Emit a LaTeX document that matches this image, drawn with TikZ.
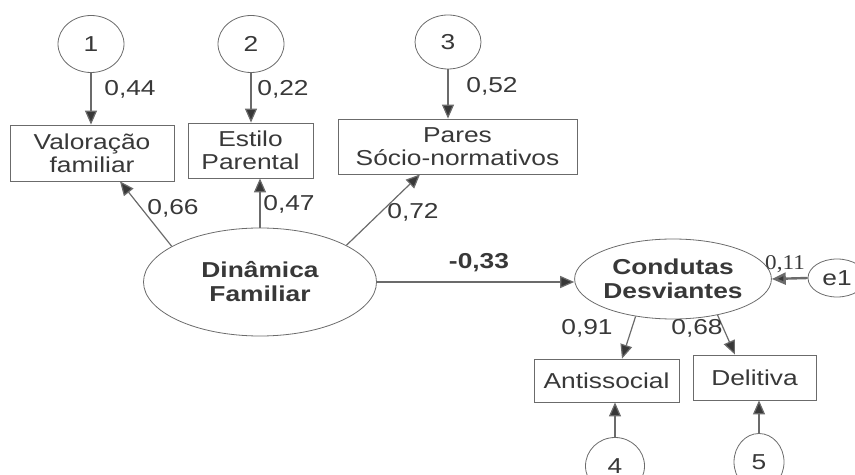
\documentclass[tikz,border=0pt]{standalone}
\usepackage{fontspec}
\setmainfont[FakeStretch=1.22]{Liberation Sans}
\newfontfamily\serifnum[FakeStretch=1.1]{Liberation Serif}
\usetikzlibrary{arrows.meta,shapes.geometric,calc}
\definecolor{ink}{gray}{0.22}
\definecolor{linegray}{gray}{0.42}
\begin{document}
\begin{tikzpicture}[x=0.5pt,y=-0.5pt,
  every node/.style={text=ink,font=\fontsize{10.8pt}{11.5pt}\selectfont},
  err/.style={draw=linegray,ellipse,inner sep=0pt,minimum width=33pt,minimum height=28.5pt},
  obs/.style={draw=linegray,rectangle,inner sep=0pt,align=center},
  lat/.style={draw=linegray,ellipse,inner sep=0pt,align=center,font=\fontsize{10.8pt}{12pt}\selectfont\bfseries},
  arr/.style={draw=linegray,line width=0.6pt,-{Triangle[length=7pt,width=6pt,fill=ink]}},
  lbl/.style={inner sep=0pt}]
\useasboundingbox (0,0) rectangle (855,475);
% error circles
\node[err] (c1) at (91,44) {1};
\node[err] (c2) at (251,44) {2};
\node[err,minimum height=27pt] (c3) at (448,42) {3};
\node[err,minimum width=29.5pt] (c4) at (615,466) {4};
\node[err,minimum width=25pt] (c5) at (759,462) {5};
\node[err,minimum width=29pt,minimum height=19pt] (e1) at (837,278) {e1};
% observed
\node[obs,minimum width=82pt,minimum height=28pt] (b1) at (92,153) {Valoração\\familiar};
\node[obs,minimum width=62.5pt,minimum height=27.5pt] (b2) at (250.5,150.5) {Estilo\\Parental};
\node[obs,minimum width=119.5pt,minimum height=27.5pt] (b3) at (457.5,146.5) {Pares\\Sócio-normativos};
\node[obs,minimum width=72.5pt,minimum height=21.5pt] (b4) at (606.5,380.5) {Antissocial};
\node[obs,minimum width=61.5pt,minimum height=22.5pt] (b5) at (754.5,377.5) {Delitiva};
% latent
\node[lat,minimum width=116.5pt,minimum height=54pt] (DF) at (260,282) {Dinâmica\\Familiar};
\node[lat,minimum width=89.5pt,minimum height=40pt] (CD) at (673,279) {Condutas\\Desviantes};
% arrows
\draw[arr] (c1.south) -- (c1.south |- b1.north);
\draw[arr] (c2.south) -- (c2.south |- b2.north);
\draw[arr] (c3.south) -- (c3.south |- b3.north);
\draw[arr] (DF.158) -- ($(b1.south)+(28,0)$);
\draw[arr] (DF.north) -- (DF.north |- b2.south);
\draw[arr] (DF.23.5) -- ($(b3.south)+(-37.5,0)$);
\draw[arr] (DF.east) -- (DF.east -| CD.west);
\draw[arr,line width=1.2pt] (e1.west) -- (CD.east);
\draw[arr] (CD.225) -- ($(b4.north)+(15.5,0)$);
\draw[arr] (CD.321) -- ($(b5.north)+(-19.5,0)$);
\draw[arr] (c4.north) -- (c4.north |- b4.south);
\draw[arr] (c5.north) -- (c5.north |- b5.south);
% labels
\node[lbl] (l1) at (130,89) {0,44};
\node[lbl] (l2) at (283,89) {0,22};
\node[lbl] (l3) at (492,86) {0,52};
\node[lbl] (l4) at (173,208) {0,66};
\node[lbl] (l5) at (289,204) {0,47};
\node[lbl] (l6) at (413,212) {0,72};
\node[lbl,font=\fontsize{10.8pt}{11.5pt}\selectfont\bfseries] (l7) at (479,263) {-0,33};
\node[lbl,font=\fontsize{10.5pt}{11pt}\serifnum] (l8) at (785,264) {0,11};
\node[lbl] (l9) at (587,328) {0,91};
\node[lbl] (l10) at (697,328) {0,68};
\end{tikzpicture}
\end{document}
